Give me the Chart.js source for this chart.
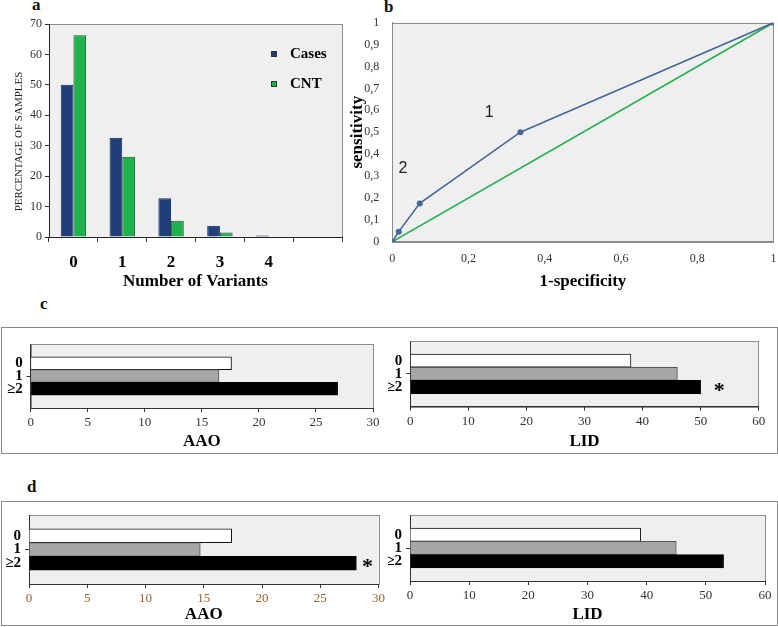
<!DOCTYPE html>
<html>
<head>
<meta charset="utf-8">
<script src="https://cdn.jsdelivr.net/npm/chart.js@4.4.1/dist/chart.umd.min.js"></script>
<style>
  body { margin: 0; background: #fff; }
  #fig { position: relative; width: 778px; height: 627px; overflow: hidden; font-family: 'Liberation Serif', serif; }
  #fig canvas { position: absolute; }
  .box { position: absolute; box-sizing: border-box; border: 1px solid #8a8a8a; }
  .tag { position: absolute; font-weight: bold; font-size: 17px; line-height: 1; color: #111; }
</style>
</head>
<body>
<div id="fig">
  <div class="box" style="left:1px;top:327px;width:777px;height:127px"></div>
  <div class="box" style="left:1px;top:501px;width:777px;height:125px"></div>
  <div class="tag" style="left:32px;top:-4px">a</div>
  <div class="tag" style="left:384px;top:-2px">b</div>
  <div class="tag" style="left:40px;top:295px">c</div>
  <div class="tag" style="left:27px;top:478px">d</div>
  <canvas id="chartA" width="345" height="292" style="left:0;top:0"></canvas>
  <canvas id="chartB" width="433" height="292" style="left:345px;top:0"></canvas>
  <canvas id="chartC1" width="386" height="124" style="left:2px;top:328px"></canvas>
  <canvas id="chartC2" width="388" height="124" style="left:388px;top:328px"></canvas>
  <canvas id="chartD1" width="386" height="123" style="left:2px;top:502px"></canvas>
  <canvas id="chartD2" width="388" height="123" style="left:388px;top:502px"></canvas>
</div>
<script>
Chart.defaults.font.family = "'Liberation Serif', 'Times New Roman', serif";
Chart.defaults.color = '#333';
Chart.defaults.animation = false;
Chart.defaults.plugins.legend.display = false;
Chart.defaults.plugins.tooltip.enabled = false;

// panel a
const variantLabels = ['0', '1', '2', '3', '4'];
const casesPct = [50, 32.6, 12.7, 3.7, 0.5];
const controlPct = [66.3, 26.4, 5.3, 1.5, null];

// panel b
const rocX = [0, 0.017, 0.072, 0.336, 1];
const rocY = [0, 0.046, 0.175, 0.5, 1];
const chanceX = [0, 1];
const chanceY = [0, 1];

// panels c, d
const groupLabels = ['0', '1', '≥2'];
const aaoC = [17.6, 16.5, 26.9];
const lidC = [38, 46, 50];
const aaoD = [17.4, 14.7, 28.1];
const lidD = [39, 45, 53];

const groupFill = ['#ffffff', '#a6a6a6', '#000000'];
const groupEdge = ['#111111', '#555555', '#000000'];

const plotFrame = {
  id: 'plotFrame',
  beforeDraw(chart, args, opts) {
    const { ctx, chartArea: a } = chart;
    ctx.save();
    ctx.fillStyle = opts.bg || '#efefef';
    ctx.fillRect(a.left, a.top, a.right - a.left, a.bottom - a.top);
    ctx.strokeStyle = opts.color || '#8c8c8c';
    ctx.lineWidth = 1;
    ctx.strokeRect(Math.round(a.left) + 0.5, Math.round(a.top) + 0.5,
      Math.round(a.right - a.left), Math.round(a.bottom - a.top));
    ctx.restore();
  },
};

const dataNotes = {
  id: 'dataNotes',
  afterDatasetsDraw(chart, args, opts) {
    const { ctx, scales } = chart;
    ctx.save();
    ctx.font = opts.font;
    ctx.fillStyle = opts.color || '#000';
    ctx.textAlign = 'center';
    ctx.textBaseline = 'middle';
    (opts.items || []).forEach((it) => {
      const x = scales.x.getPixelForValue(it.x);
      const y = scales.y.getPixelForValue(it.y);
      ctx.fillText(it.text, x, y + (opts.dy || 0));
    });
    ctx.restore();
  },
};

const boxLegend = {
  id: 'boxLegend',
  afterDraw(chart, args, opts) {
    const { ctx, chartArea: a } = chart;
    ctx.save();
    ctx.font = "bold 15px 'Liberation Serif'";
    ctx.textBaseline = 'middle';
    chart.data.datasets.forEach((ds, i) => {
      const x = Math.round(a.right - opts.right);
      const y = Math.round(a.top + opts.top + i * opts.gap);
      ctx.fillStyle = ds.backgroundColor;
      ctx.fillRect(x, y - 3, 6, 6);
      ctx.strokeStyle = '#333';
      ctx.strokeRect(x + 0.5, y - 2.5, 5, 5);
      ctx.fillStyle = '#000';
      ctx.fillText(ds.label, x + 19, y);
    });
    ctx.restore();
  },
};

const decimalComma = (v) => String(Math.round(v * 10) / 10).replace('.', ',');

new Chart(document.getElementById('chartA'), {
  type: 'bar',
  data: {
    labels: [...variantLabels, ''],
    datasets: [
      { label: 'Cases', data: casesPct, backgroundColor: '#1f3f7b', borderColor: '#172a50', borderWidth: 1 },
      { label: 'CNT', data: controlPct, backgroundColor: '#1db24c', borderColor: '#175a2c', borderWidth: 1 },
    ],
  },
  options: {
    responsive: false,
    layout: { padding: { left: 13, top: 24, right: 3, bottom: 0 } },
    datasets: { bar: { categoryPercentage: 0.52, barPercentage: 1 } },
    plugins: {
      plotFrame: { bg: '#efefef', color: '#8c8c8c' },
      boxLegend: { right: 71, top: 29.5, gap: 30 },
    },
    scales: {
      x: {
        grid: { offset: true, drawOnChartArea: false, tickLength: 5, color: '#333' },
        border: { color: '#222' },
        ticks: { font: { size: 17, weight: 'bold' }, color: '#000', padding: 10 },
        title: { display: true, text: 'Number of Variants', font: { size: 17, weight: 'bold' }, color: '#000', padding: 0 },
        afterFit: (s) => { s.height = 55; },
      },
      y: {
        min: 0,
        max: 70,
        ticks: { stepSize: 10, font: { size: 12 }, color: '#333', padding: 3 },
        grid: { drawOnChartArea: false, tickLength: 4, color: '#333' },
        border: { color: '#222' },
        title: { display: true, text: 'PERCENTAGE OF SAMPLES        ', font: { size: 11 }, color: '#222', padding: 0 },
        afterFit: (s) => { s.width = 36; },
      },
    },
  },
  plugins: [plotFrame, boxLegend],
});

new Chart(document.getElementById('chartB'), {
  type: 'scatter',
  data: {
    datasets: [
      {
        data: chanceX.map((x, i) => ({ x, y: chanceY[i] })),
        showLine: true, borderColor: '#22b14c', borderWidth: 1.6, pointRadius: 0, order: 2,
      },
      {
        data: rocX.map((x, i) => ({ x, y: rocY[i] })),
        showLine: true, borderColor: '#46679c', backgroundColor: '#46679c', borderWidth: 1.6,
        pointRadius: 3, pointBorderWidth: 0, order: 1,
      },
    ],
  },
  options: {
    responsive: false,
    layout: { padding: { left: 2, top: 22.7, right: 3.3, bottom: 0 } },
    plugins: {
      plotFrame: { bg: '#efefef', color: '#8c8c8c' },
      dataNotes: {
        font: "16px 'Liberation Sans'",
        color: '#222',
        items: [
          { text: '1', x: 0.254, y: 0.59 },
          { text: '2', x: 0.028, y: 0.335 },
        ],
      },
    },
    scales: {
      x: {
        type: 'linear',
        min: 0,
        max: 1,
        ticks: { stepSize: 0.2, callback: decimalComma, font: { size: 12 }, color: '#333', padding: 1.5 },
        grid: { display: false },
        border: { color: '#8c8c8c' },
        title: { display: true, text: '1-specificity', font: { size: 17, weight: 'bold' }, color: '#000', padding: 0 },
        afterFit: (s) => { s.height = 50.3; },
      },
      y: {
        min: 0,
        max: 1,
        ticks: { stepSize: 0.1, callback: decimalComma, font: { size: 12 }, color: '#333', padding: 5 },
        grid: { display: false },
        border: { color: '#8c8c8c' },
        title: { display: true, text: 'sensitivity', font: { size: 17, weight: 'bold' }, color: '#000', padding: 0 },
        afterFit: (s) => { s.width = 45.3; },
      },
    },
  },
  plugins: [plotFrame, dataNotes],
});

function groupChart(id, values, max, step, title, pad, yWidth, xHeight, tickColor, notes) {
  return new Chart(document.getElementById(id), {
    type: 'bar',
    data: {
      labels: ['', ...groupLabels, ''],
      datasets: [{
        data: [null, ...values, null],
        backgroundColor: ['transparent', ...groupFill, 'transparent'],
        borderColor: ['transparent', ...groupEdge, 'transparent'],
        borderWidth: 1,
        barPercentage: 1,
        categoryPercentage: 1,
      }],
    },
    options: {
      responsive: false,
      indexAxis: 'y',
      layout: { padding: pad },
      plugins: {
        plotFrame: { bg: '#efefef', color: '#8c8c8c' },
        dataNotes: { font: "bold 22px 'Liberation Serif'", color: '#000', dy: 4, items: notes },
      },
      scales: {
        x: {
          min: 0,
          max,
          ticks: { stepSize: step, font: { size: 13 }, color: tickColor, padding: 3 },
          grid: { drawOnChartArea: false, tickLength: 4, color: '#333' },
          border: { color: '#333' },
          title: { display: true, text: title, font: { size: 17, weight: 'bold' }, color: '#000', padding: 0 },
          afterFit: (s) => { s.height = xHeight; },
        },
        y: {
          ticks: { autoSkip: false, font: { size: 15, weight: 'bold' }, color: '#000', padding: 4 },
          grid: {
            offset: false,
            drawOnChartArea: false,
            tickLength: 4,
            color: (ctx) => (ctx.index === 2 ? '#333' : 'rgba(0,0,0,0)'),
          },
          border: { color: '#333' },
          afterFit: (s) => { s.width = yWidth; },
        },
      },
    },
    plugins: [plotFrame, dataNotes],
  });
}

groupChart('chartC1', aaoC, 30, 5, 'AAO', { left: 0, top: 16, right: 15, bottom: 0 }, 28.7, 44, '#333', []);
groupChart('chartC2', lidC, 60, 10, 'LID', { left: 0, top: 10.3, right: 17.3, bottom: 0 }, 22.3, 45.3, '#333',
  [{ text: '*', x: 53.2, y: 3 }]);
groupChart('chartD1', aaoD, 30, 5, 'AAO', { left: 0, top: 10.3, right: 7, bottom: 0 }, 27, 41, '#9a5f2a',
  [{ text: '*', x: 29.06, y: 3 }]);
groupChart('chartD2', lidD, 60, 10, 'LID', { left: 0, top: 9.7, right: 11, bottom: 0 }, 22, 44, '#333', []);
</script>
</body>
</html>
